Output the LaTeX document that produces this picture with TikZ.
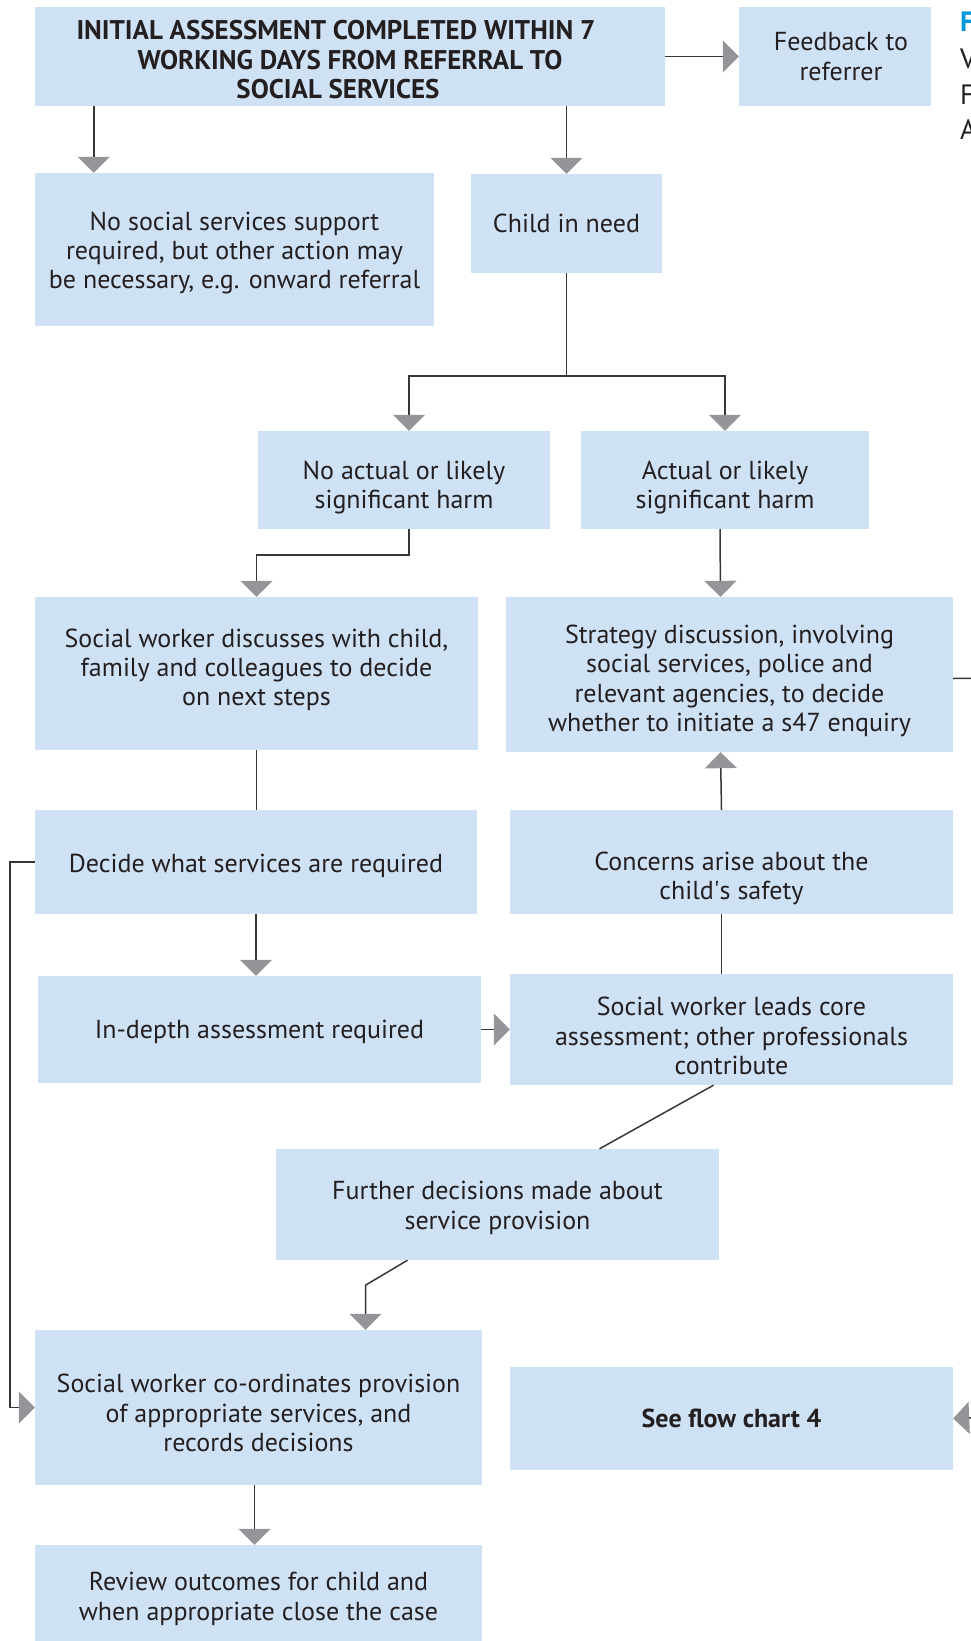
\documentclass[tikz,border=0pt]{standalone}
\usepackage{fontspec}
\setmainfont{PT Sans}
\usetikzlibrary{positioning}
\usetikzlibrary{arrows.meta,calc}
\definecolor{boxblue}{RGB}{207,226,245}
\definecolor{linegray}{RGB}{55,55,55}
\definecolor{tipgray}{RGB}{147,149,152}
\definecolor{capblue}{RGB}{0,152,218}
\definecolor{textdark}{RGB}{35,31,32}
\newcommand{\boxfont}{\fontsize{26}{29.4}\selectfont}
\newcommand{\headfont}{\fontsize{27}{29.4}\selectfont\bfseries}
\newcommand{\capfont}{\fontsize{28}{30}\selectfont}
\tikzset{line/.style={draw=linegray, line width=1.5pt, -{Triangle[width=32pt,length=16pt,color=tipgray]}}}
\tikzset{link/.style={draw=linegray, line width=1.5pt}}
\tikzset{drop/.style={execute at begin node={\rule{0pt}{#1}}}}
\tikzset{lift/.style={execute at begin node={\rule[-#1]{0pt}{0pt}}}}

\begin{document}
\begin{tikzpicture}[x=1pt, y=-1pt]
\tikzstyle{block} = [rectangle, fill=boxblue, text=textdark, align=center, inner sep=0pt, font=\boxfont]
\tikzstyle{cut} = [anchor=base west, inner sep=0pt, text=textdark, font=\capfont]

\useasboundingbox (0,0) rectangle (971,1641);

% blocks
    \node [block, drop=84.3pt, minimum width=630pt, minimum height=99pt, font=\headfont] (init) at (350,56.5) {INITIAL ASSESSMENT COMPLETED WITHIN 7\hspace*{28pt}\\WORKING DAYS FROM REFERRAL TO\hspace*{28pt}\\SOCIAL SERVICES\hspace*{24pt}};
    \node [block, minimum width=192pt, minimum height=99pt] (feedback) at (835,56.5) {\hspace*{12pt}Feedback to\\\hspace*{12pt}referrer};
    \node [block, drop=84.3pt, minimum width=399pt, minimum height=153pt] (nosupport) at (234.5,249.5) {No social services support\\required, but other action may\\be necessary, e.g. onward referral};
    \node [block, minimum width=191pt, minimum height=99pt] (need) at (566.5,223.5) {Child in need};
    \node [block, drop=62.9pt, minimum width=292pt, minimum height=98pt] (noharm) at (404,480) {No actual or likely\\significant harm};
    \node [block, drop=62.9pt, minimum width=288pt, minimum height=98pt] (harm) at (725,480) {Actual or likely\\significant harm};
    \node [block, lift=12.5pt, minimum width=443pt, minimum height=153pt] (discuss) at (256.5,673.5) {Social worker discusses with child,\\family and colleagues to decide\\on next steps};
    \node [block, drop=119.7pt, minimum width=447pt, minimum height=155pt] (strategy) at (729.5,674.5) {Strategy discussion, involving\\social services, police and\\relevant agencies, to decide\\whether to initiate a s47 enquiry};
    \node [block, drop=25.5pt, minimum width=442pt, minimum height=104pt] (decide) at (256,862) {Decide what services are required};
    \node [block, drop=80.9pt, minimum width=443pt, minimum height=104pt] (concerns) at (731.5,862) {Concerns arise about the\\child\textquotesingle s safety};
    \node [block, drop=23.5pt, minimum width=443pt, minimum height=107pt] (indepth) at (259.5,1029.5) {In-depth assessment required};
    \node [block, drop=90.3pt, minimum width=443pt, minimum height=111pt] (core) at (731.5,1029.5) {Social worker leads core\\assessment; other professionals\\contribute};
    \node [block, drop=54.9pt, minimum width=443pt, minimum height=111pt] (further) at (497.5,1204.5) {Further decisions made about\\service provision};
    \node [block, drop=88.3pt, minimum width=447pt, minimum height=155pt] (coord) at (258.5,1407.5) {Social worker co-ordinates provision\\of appropriate services, and\\records decisions};
    \node [block, minimum width=443pt, minimum height=103pt, font=\boxfont\bfseries] (chart) at (731.5,1418.5) {See flow chart 4};
    \node [block, drop=58.9pt, minimum width=447pt, minimum height=97pt] (review) at (258.5,1593.5) {Review outcomes for child and\\when appropriate close the case};
% caption, cut at the page edge
    \node [cut, text=capblue, font=\capfont\bfseries] (capa) at (960,31) {F};
    \node [cut] (capb) at (960,68) {V};
    \node [cut] (capc) at (960,104.5) {F};
    \node [cut] (capd) at (960,139) {A};
% free ends
    \coordinate (split) at (566.5,376);
    \coordinate (offstrat) at (990,678);
    \coordinate (offchart) at (990,1417);
% arrows
    \path [line] ([xshift=59pt]init.south west) -- ([xshift=59pt]nosupport.north west);
    \path [line] (need.north |- init.south) -- (need.north);
    \path [line] (init.east) -- (feedback.west);
    \path [link] (need.south) -- (split);
    \path [line] (split) -| ([xshift=5pt]noharm.north);
    \path [line] (split) -| (harm.north);
    \path [line] ([xshift=5pt]noharm.south) -- ++(0,26) -| (discuss.north);
    \path [line] ([xshift=-5pt]harm.south) -- ([xshift=-9pt]strategy.north);
    \path [link] (discuss.south) -- (discuss.south |- decide.north);
    \path [line] (decide.south) -- (decide.south |- indepth.north);
    \path [line] (decide.west) -- ++(-25,0) |- (coord.west);
    \path [line] (indepth.east) -- (indepth.east -| core.west);
    \path [link] ([xshift=-10pt]core.north) -- ([xshift=-10pt]concerns.south);
    \path [line] ([xshift=-10pt]concerns.north) -- ([xshift=-9pt]strategy.south);
    \path [link] ([xshift=-18pt]core.south) -- ([xshift=102pt]further.north);
    \path [line] ([xshift=-90pt]further.south) -- ++(-42,25) coordinate (kink) -- (kink |- coord.north);
    \path [line] ([xshift=-4pt]coord.south) -- ([xshift=-4pt]review.north);
    \path [link] ([yshift=-4pt]strategy.east) -- (offstrat);
    \path [line] (offchart) -- (chart.east);
\end{tikzpicture}
\end{document}
